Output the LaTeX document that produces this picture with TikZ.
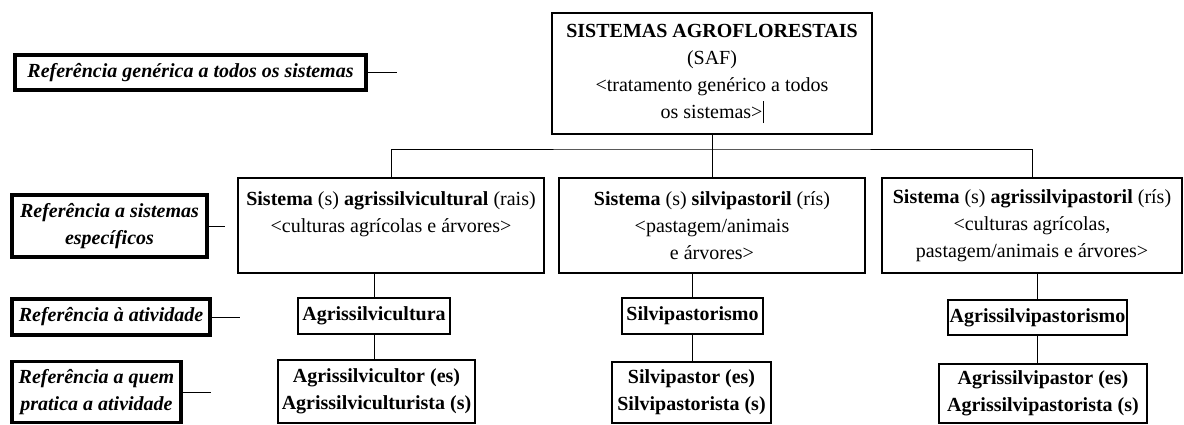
\documentclass[tikz,border=0pt]{standalone}
\usepackage{fontspec}
\setmainfont{Liberation Serif}

\tikzset{
  boite/.style={draw, line width=1.6pt, inner sep=0pt, align=center, font=\fontsize{20}{27}\selectfont},
  ref/.style={draw, line width=3.5pt, inner sep=0pt, align=center, font=\fontsize{20}{27}\selectfont\bfseries\itshape},
  lien/.style={line width=0.9pt}
}

\begin{document}
\begin{tikzpicture}[x=1pt,y=-1pt]
    % fond blanc
    \useasboundingbox[fill=white] (0,0) rectangle (1184,425);
    % colonne de gauche
    \node[ref, minimum width=351, minimum height=35] (lgen) at (190.5,72.5) {Referência genérica a todos os sistemas};
    \node[ref, minimum width=195, minimum height=62] (lsys) at (109.5,226) {Referência a sistemas\\específicos};
    \node[ref, minimum width=198, minimum height=36] (lact) at (111,317) {Referência à atividade};
    \node[ref, minimum width=169, minimum height=61] (lwho) at (96.5,392) {Referência a quem\\pratica a atividade};
    \coordinate (lgen-fin) at (397,72.5);
    \coordinate (lsys-fin) at (225,226);
    \coordinate (lact-fin) at (240,317);
    \coordinate (lwho-fin) at (211,392);
    \draw[lien] (lgen) -- (lgen-fin);
    \draw[lien] (lsys) -- (lsys-fin);
    \draw[lien] (lact) -- (lact-fin);
    \draw[lien] (lwho) -- (lwho-fin);
    % sommet
    \node[boite, minimum width=320, minimum height=121] (saf) at (712,73.5) {\textbf{SISTEMAS AGROFLORESTAIS}\\(SAF)\\<tratamento genérico a todos\\os sistemas>\rule[-5pt]{0.8pt}{22pt}};
    % systemes
    \node[boite, minimum width=306, minimum height=95] (agsc) at (391,225.5) {\textbf{Sistema} (s) \textbf{agrissilvicultural} (rais)\\<culturas agrícolas e árvores>\\\mbox{}};
    \node[boite, minimum width=306, minimum height=95] (svps) at (712,225.5) {\textbf{Sistema} (s) \textbf{silvipastoril} (rís)\\<pastagem/animais\\e árvores>};
    \node[boite, minimum width=300, minimum height=95] (agsp) at (1032,225.5) {\textbf{Sistema} (s) \textbf{agrissilvipastoril} (rís)\\<culturas agrícolas,\\pastagem/animais e árvores>};
    % activites
    \node[boite, font=\fontsize{20}{27}\selectfont\bfseries, minimum width=152, minimum height=36] (agsv) at (374,316) {Agrissilvicultura};
    \node[boite, font=\fontsize{20}{27}\selectfont\bfseries, minimum width=141, minimum height=36] (svpm) at (692.5,316) {Silvipastorismo};
    \node[boite, font=\fontsize{20}{27}\selectfont\bfseries, minimum width=179, minimum height=35] (agspm) at (1037.5,317.5) {Agrissilvipastorismo};
    % praticantes
    \node[boite, font=\fontsize{20}{27}\selectfont\bfseries, minimum width=197, minimum height=63] (agsvr) at (376.5,391.5) {Agrissilvicultor (es)\\Agrissilviculturista (s)};
    \node[boite, font=\fontsize{20}{27}\selectfont\bfseries, minimum width=159, minimum height=61] (svpr) at (691.5,392.5) {Silvipastor (es)\\Silvipastorista (s)};
    \node[boite, font=\fontsize{20}{27}\selectfont\bfseries, minimum width=208, minimum height=59] (agspr) at (1043,393.5) {Agrissilvipastor (es)\\Agrissilvipastorista (s)};
    % liens
    \coordinate (fourche) at (712,149);
    \draw[lien] (saf) -- (fourche);
    \draw[lien] (agsc.north) |- (fourche) -| (agsp.north);
    \draw[lien] (fourche) -- (svps);
    \draw[lien] (agsv) -- (agsv |- agsc.south);
    \draw[lien] (svpm) -- (svpm |- svps.south);
    \draw[lien] (agspm) -- (agspm |- agsp.south);
    \draw[lien] (agsv.south) -- (agsv.south |- agsvr.north);
    \draw[lien] (svpm.south) -- (svpm.south |- svpr.north);
    \draw[lien] (agspm.south) -- (agspm.south |- agspr.north);
\end{tikzpicture}
\end{document}
